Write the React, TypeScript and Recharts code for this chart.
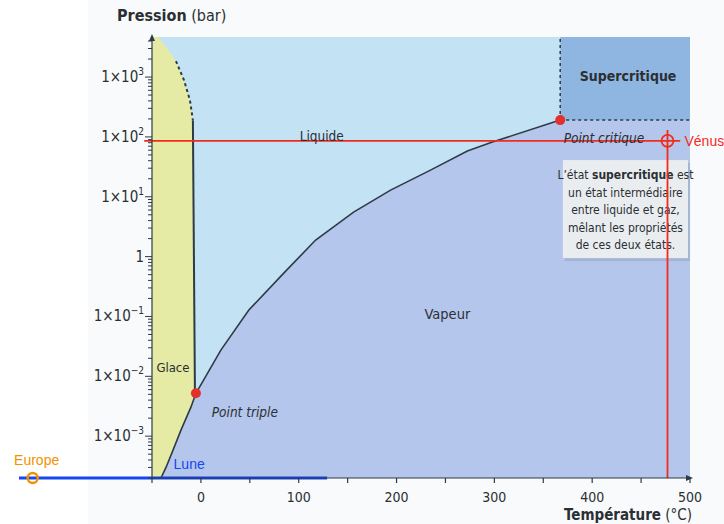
import React from 'react';
import {
  ComposedChart,
  CartesianGrid,
  XAxis,
  YAxis,
  Area,
  Line,
  ReferenceLine,
  ReferenceDot,
  ReferenceArea,
} from 'recharts';

// bornes des axes
const T_MIN = -50;
const T_MAX = 500;
const P_MIN = 0.0002;
const P_MAX = 4670;

// courbe de sublimation (glace / vapeur)
const sublimationT = [-40.8, -35.7, -28.6, -20.4, -10.2, -5.1];
const sublimationP = [0.0002, 0.0003, 0.00058, 0.00126, 0.00305, 0.0052];

// courbe de vaporisation (liquide / vapeur), du point triple au point critique
const vaporisationT = [-5.1, 20.4, 49, 84.7, 117.3, 156.1, 193.9, 234.7, 272.4, 298, 367.3];
const vaporisationP = [0.0052, 0.0274, 0.128, 0.53, 1.89, 5.55, 12.9, 27.9, 58, 82, 191];

// courbe de fusion (glace / liquide), du haut vers le point triple
const fusionT = [-43.9, -34.7, -25.5, -17.3, -11.2, -8.2, -6.1];
const fusionP = [4670, 3050, 1850, 890, 410, 190, 0.0052];

const tripleT = -5.1;
const tripleP = 0.0052;
const critiqueT = 367.3;
const critiqueP = 191;

// planètes / satellites
const venusT = 477;
const venusP = 86;
const europeT = -172;
const luneT = [-186, 129];

// graduations
const xTicks = [-50, 0, 50, 100, 150, 200, 250, 300, 350, 400, 450, 500];
const xTickLabels = ['', '0', '', '100', '', '200', '', '300', '', '400', '', '500'];
const decades = [0.001, 0.01, 0.1, 1, 10, 100, 1000];
const decadeLabels = ['1×10^−3', '1×10^−2', '1×10^−1', '1', '1×10^1', '1×10^2', '1×10^3'];

const yTicks: number[] = [];
[0.0001, ...decades].forEach((d) => {
  for (let m = 1; m <= 9; m++) {
    const v = m * d;
    if (v >= P_MIN && v <= P_MAX) yTicks.push(v);
  }
});

const COND = "'DejaVu Sans Condensed', 'Liberation Sans Narrow', Roboto, sans-serif";
const SANS = "'Liberation Sans', Arial, sans-serif";
const INK = '#2b2f33';
const LINE = '#2e3b45';
const ICE = '#e5eba4';
const LIQUID = '#c3e2f3';
const VAPOR = '#b4c6eb';
const SUPER = '#8fb6e1';
const RED = '#f32a1c';
const DOT = '#e3302a';

const pts = (ts: number[], ps: number[]) => ts.map((t, i) => ({ t, p: ps[i] }));

const vaporArea = [
  ...pts(sublimationT, sublimationP),
  ...pts(vaporisationT.slice(1), vaporisationP.slice(1)),
  { t: T_MAX, p: critiqueP },
];
const liquidArea = [...pts(fusionT, fusionP), { t: critiqueT, p: tripleP }];
const superArea = [
  { t: critiqueT, p: critiqueP },
  { t: T_MAX, p: critiqueP },
];
const sublimationLine = pts(sublimationT, sublimationP);
const vaporisationLine = pts(vaporisationT, vaporisationP);
const fusionSolid = pts(fusionT.slice(5), fusionP.slice(5));
const fusionDashed = pts(fusionT.slice(2, 6), fusionP.slice(2, 6));

const XTick = (props: any) => {
  const { x, y, payload } = props;
  const i = xTicks.indexOf(payload.value);
  return (
    <g>
      <line x1={x} x2={x} y1={y} y2={y + 5} stroke={LINE} strokeWidth={1.2} />
      {xTickLabels[i] && (
        <text x={x} y={y + 24} textAnchor="middle" fontSize={14} fill={INK} fontFamily={COND}>
          {xTickLabels[i]}
        </text>
      )}
    </g>
  );
};

const YTick = (props: any) => {
  const { x, y, payload } = props;
  const i = decades.findIndex((d) => Math.abs(d - payload.value) / d < 1e-6);
  const major = i >= 0;
  const [base, exp] = major ? decadeLabels[i].split('^') : ['', ''];
  return (
    <g>
      <line x1={x - (major ? 7 : 4)} x2={x} y1={y} y2={y} stroke={LINE} strokeWidth={1} />
      {major && (
        <text x={x - 8} y={y + 5} textAnchor="end" fontSize={15} fill={INK} fontFamily={COND}>
          {base}
          {exp && (
            <tspan fontSize={10} dy={-7}>
              {exp}
            </tspan>
          )}
        </text>
      )}
    </g>
  );
};

const textShape =
  (txt: string, opts: { size?: number; weight?: number | string; italic?: boolean }) =>
  (props: any) => (
    <text
      x={props.cx}
      y={props.cy}
      textAnchor="middle"
      dominantBaseline="central"
      fontSize={opts.size ?? 14}
      fontWeight={opts.weight ?? 'normal'}
      fontStyle={opts.italic ? 'italic' : 'normal'}
      fill={INK}
      fontFamily={COND}
    >
      {txt}
    </text>
  );

const infoLines: string[][] = [
  ['L’état ', 'supercritique', ' est'],
  ['un état intermédiaire'],
  ['entre liquide et gaz,'],
  ['mêlant les propriétés'],
  ['de ces deux états.'],
];

const InfoBox = (props: any) => {
  const { x, y, width, height } = props;
  const cx = x + width / 2;
  return (
    <g>
      <rect x={x + 2} y={y + 3} width={width} height={height} fill="#9aa8c4" opacity={0.6} />
      <rect x={x} y={y} width={width} height={height} fill="#e9edf0" />
      {infoLines.map((parts, k) => (
        <text key={k} x={cx} y={y + 19 + k * 17.5} textAnchor="middle" fontSize={12} fill={INK} fontFamily={COND}>
          {parts.map((s, j) => (
            <tspan key={j} fontWeight={k === 0 && j === 1 ? 'bold' : 'normal'}>
              {s}
            </tspan>
          ))}
        </text>
      ))}
    </g>
  );
};

export default function App() {
  return (
    <div style={{ position: 'absolute', left: 0, top: 0, width: 724, height: 524, background: '#fff' }}>
      <div style={{ position: 'absolute', left: 88, top: 0, width: 636, height: 524, background: '#f8fafb' }} />
      <div style={{ position: 'absolute', left: 0, top: 0 }}>
        <ComposedChart width={724} height={524} margin={{ top: 37, right: 34, bottom: 16, left: 92 }}>
          <CartesianGrid horizontal={false} vertical={false} fill={ICE} />
          <XAxis
            type="number"
            dataKey="t"
            domain={[T_MIN, T_MAX]}
            allowDataOverflow
            ticks={xTicks}
            interval={0}
            height={30}
            tickSize={0}
            tickMargin={0}
            tick={(p: any) => <XTick {...p} />}
            axisLine={{ stroke: LINE, strokeWidth: 1.2 }}
            label={(p: any) => (
              <text
                x={p.viewBox.x + p.viewBox.width + 2}
                y={p.viewBox.y + 42}
                textAnchor="end"
                fontSize={15}
                fill={INK}
                fontFamily={COND}
              >
                <tspan fontWeight="bold">Température</tspan> (°C)
              </text>
            )}
          />
          <YAxis
            type="number"
            dataKey="p"
            scale="log"
            domain={[P_MIN, P_MAX]}
            allowDataOverflow
            ticks={yTicks}
            interval={0}
            width={60}
            tickSize={0}
            tickMargin={0}
            tick={(p: any) => <YTick {...p} />}
            axisLine={{ stroke: LINE, strokeWidth: 1.2 }}
            label={(p: any) => (
              <text x={p.viewBox.x + 25} y={p.viewBox.y - 16} fontSize={16} fill={INK} fontFamily={COND}>
                <tspan fontWeight="bold">Pression</tspan> (bar)
              </text>
            )}
          />

          <Area data={liquidArea} dataKey="p" type="linear" baseValue="dataMax" fill={LIQUID} fillOpacity={1} stroke="none" isAnimationActive={false} />
          <Area data={vaporArea} dataKey="p" type="linear" fill={VAPOR} fillOpacity={1} stroke="none" isAnimationActive={false} />
          <Area data={superArea} dataKey="p" type="linear" baseValue="dataMax" fill={SUPER} fillOpacity={1} stroke="none" isAnimationActive={false} />

          <Line data={sublimationLine} dataKey="p" type="linear" stroke={LINE} strokeWidth={1.6} dot={false} isAnimationActive={false} />
          <Line data={vaporisationLine} dataKey="p" type="linear" stroke={LINE} strokeWidth={1.6} dot={false} isAnimationActive={false} />
          <Line data={fusionSolid} dataKey="p" type="linear" stroke={LINE} strokeWidth={2} dot={false} isAnimationActive={false} />
          <Line data={fusionDashed} dataKey="p" type="linear" stroke={LINE} strokeWidth={2} strokeDasharray="3 3" dot={false} isAnimationActive={false} />

          <ReferenceLine segment={[{ x: critiqueT, y: critiqueP }, { x: critiqueT, y: P_MAX }]} stroke={LINE} strokeWidth={1.5} strokeDasharray="3 3" ifOverflow="visible" />
          <ReferenceLine segment={[{ x: critiqueT, y: critiqueP }, { x: T_MAX, y: critiqueP }]} stroke={LINE} strokeWidth={1.5} strokeDasharray="3 3" ifOverflow="visible" />

          <ReferenceArea x1={370} x2={498} y1={0.944} y2={41} ifOverflow="visible" shape={(p: any) => <InfoBox {...p} />} />

          <ReferenceDot x={123.5} y={103} r={0} ifOverflow="visible" shape={textShape('Liquide', { size: 13.5 })} />
          <ReferenceDot x={252} y={0.109} r={0} ifOverflow="visible" shape={textShape('Vapeur', { size: 14.5 })} />
          <ReferenceDot x={-28.6} y={0.0142} r={0} ifOverflow="visible" shape={textShape('Glace', { size: 13 })} />
          <ReferenceDot x={44.9} y={0.00252} r={0} ifOverflow="visible" shape={textShape('Point triple', { size: 13.5, italic: true })} />
          <ReferenceDot x={412} y={95.5} r={0} ifOverflow="visible" shape={textShape('Point critique', { size: 13.5, italic: true })} />
          <ReferenceDot x={436.7} y={1040} r={0} ifOverflow="visible" shape={textShape('Supercritique', { size: 14, weight: 'bold' })} />

          <ReferenceDot x={tripleT} y={tripleP} r={5} fill={DOT} stroke="none" ifOverflow="visible" />
          <ReferenceDot x={critiqueT} y={critiqueP} r={5} fill={DOT} stroke="none" ifOverflow="visible" />

          {/* flèches des axes */}
          <ReferenceDot
            x={T_MAX}
            y={P_MIN}
            ifOverflow="visible"
            shape={(p: any) => <path d={`M${p.cx - 4},${p.cy - 3}L${p.cx + 3},${p.cy}L${p.cx - 4},${p.cy + 3}Z`} fill={LINE} />}
          />
          <ReferenceDot
            x={T_MIN}
            y={P_MAX}
            ifOverflow="visible"
            shape={(p: any) => <path d={`M${p.cx - 3},${p.cy + 4}L${p.cx},${p.cy - 3}L${p.cx + 3},${p.cy + 4}Z`} fill={LINE} />}
          />

          {/* Vénus */}
          <ReferenceLine segment={[{ x: -58, y: venusP }, { x: 490, y: venusP }]} stroke={RED} strokeWidth={1.8} ifOverflow="visible" />
          <ReferenceLine segment={[{ x: venusT, y: 130 }, { x: venusT, y: P_MIN }]} stroke={RED} strokeWidth={1.8} ifOverflow="visible" />
          <ReferenceDot
            x={venusT}
            y={venusP}
            ifOverflow="visible"
            shape={(p: any) => (
              <g>
                <circle cx={p.cx} cy={p.cy} r={6} fill="none" stroke={RED} strokeWidth={1.8} />
                <text x={p.cx + 17} y={p.cy + 5} fontSize={14} fill={RED} fontFamily={SANS}>
                  Vénus
                </text>
              </g>
            )}
          />

          {/* Lune */}
          <ReferenceLine
            segment={[{ x: luneT[0], y: P_MIN }, { x: luneT[1], y: P_MIN }]}
            stroke="#1747f0"
            strokeWidth={3}
            ifOverflow="visible"
          />
          <ReferenceDot
            x={-12}
            y={P_MIN}
            ifOverflow="visible"
            shape={(p: any) => (
              <text x={p.cx} y={p.cy - 9} textAnchor="middle" fontSize={14} fill="#1747f0" fontFamily={SANS}>
                Lune
              </text>
            )}
          />

          {/* Europe */}
          <ReferenceDot
            x={europeT}
            y={P_MIN}
            ifOverflow="visible"
            shape={(p: any) => (
              <g>
                <circle cx={p.cx} cy={p.cy} r={5} fill="none" stroke="#f39200" strokeWidth={2.5} />
                <text x={p.cx + 4} y={p.cy - 13} textAnchor="middle" fontSize={14} fill="#f39200" fontFamily={SANS}>
                  Europe
                </text>
              </g>
            )}
          />
        </ComposedChart>
      </div>
    </div>
  );
}
